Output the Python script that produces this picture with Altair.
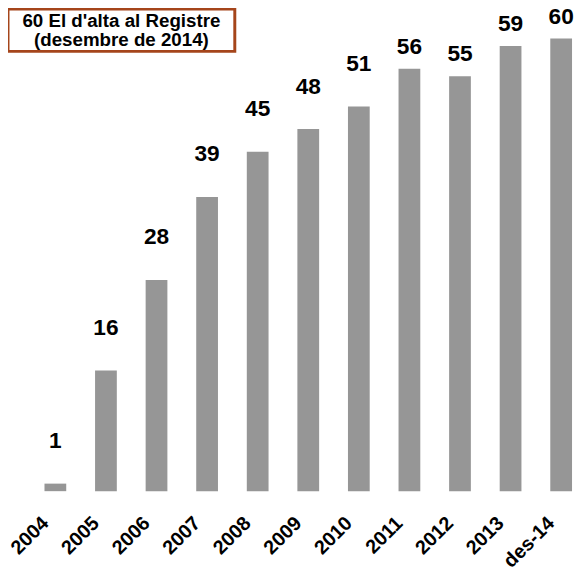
import altair as alt
import pandas as pd

years = ["2004", "2005", "2006", "2007", "2008", "2009", "2010", "2011", "2012", "2013", "des-14"]
values = [1, 16, 28, 39, 45, 48, 51, 56, 55, 59, 60]
title_lines = ["60 El d'alta al Registre", "(desembre de 2014)"]

df = pd.DataFrame({"year": years, "value": values})

FONT = "Liberation Sans"

x = alt.X(
    "year:N",
    sort=years,
    scale=alt.Scale(paddingInner=0.57, paddingOuter=0),
    axis=alt.Axis(
        title=None, labelAngle=-45, labelFontSize=20, labelFontWeight="bold",
        labelColor="black", labelFont=FONT, domain=False, ticks=False,
        labelPadding=22, labelOffset=-17, labelLimit=200, grid=False,
    ),
)
y = alt.Y("value:Q", scale=alt.Scale(domain=[0, 60], nice=False), axis=None)

bars = alt.Chart(df).mark_bar(color="#969696").encode(x=x, y=y)

lab_style = dict(font=FONT, fontSize=23, fontWeight="bold", color="black",
                 baseline="alphabetic", align="center")
labels_low = alt.Chart(df).transform_filter("datum.value < 55").mark_text(
    dy=-36, **lab_style).encode(x=x, y=y, text="value:Q")
labels_high = alt.Chart(df).transform_filter("datum.value >= 55").mark_text(
    dy=-15, **lab_style).encode(x=x, y=y, text="value:Q")

one = pd.DataFrame({"k": [0]})
box = alt.Chart(one).mark_rect(fill="white", stroke="#A5451B", strokeWidth=3).encode(
    x=alt.value(-37), x2=alt.value(193), y=alt.value(-30), y2=alt.value(13)
)
title = alt.Chart(one).mark_text(
    text=title_lines, font=FONT, fontSize=19, fontWeight="bold", color="black",
    align="center", baseline="middle", lineHeight=20,
).encode(x=alt.value(78), y=alt.value(-18))

chart = alt.layer(bars, labels_low, labels_high, box, title).properties(
    width=535, height=459,
    autosize=alt.AutoSizeParams(type="none"),
    padding={"left": 37, "right": 2, "top": 27, "bottom": 80},
).configure_view(stroke=None)

chart.save("out.html", embed_options={"renderer": "svg", "actions": False})
